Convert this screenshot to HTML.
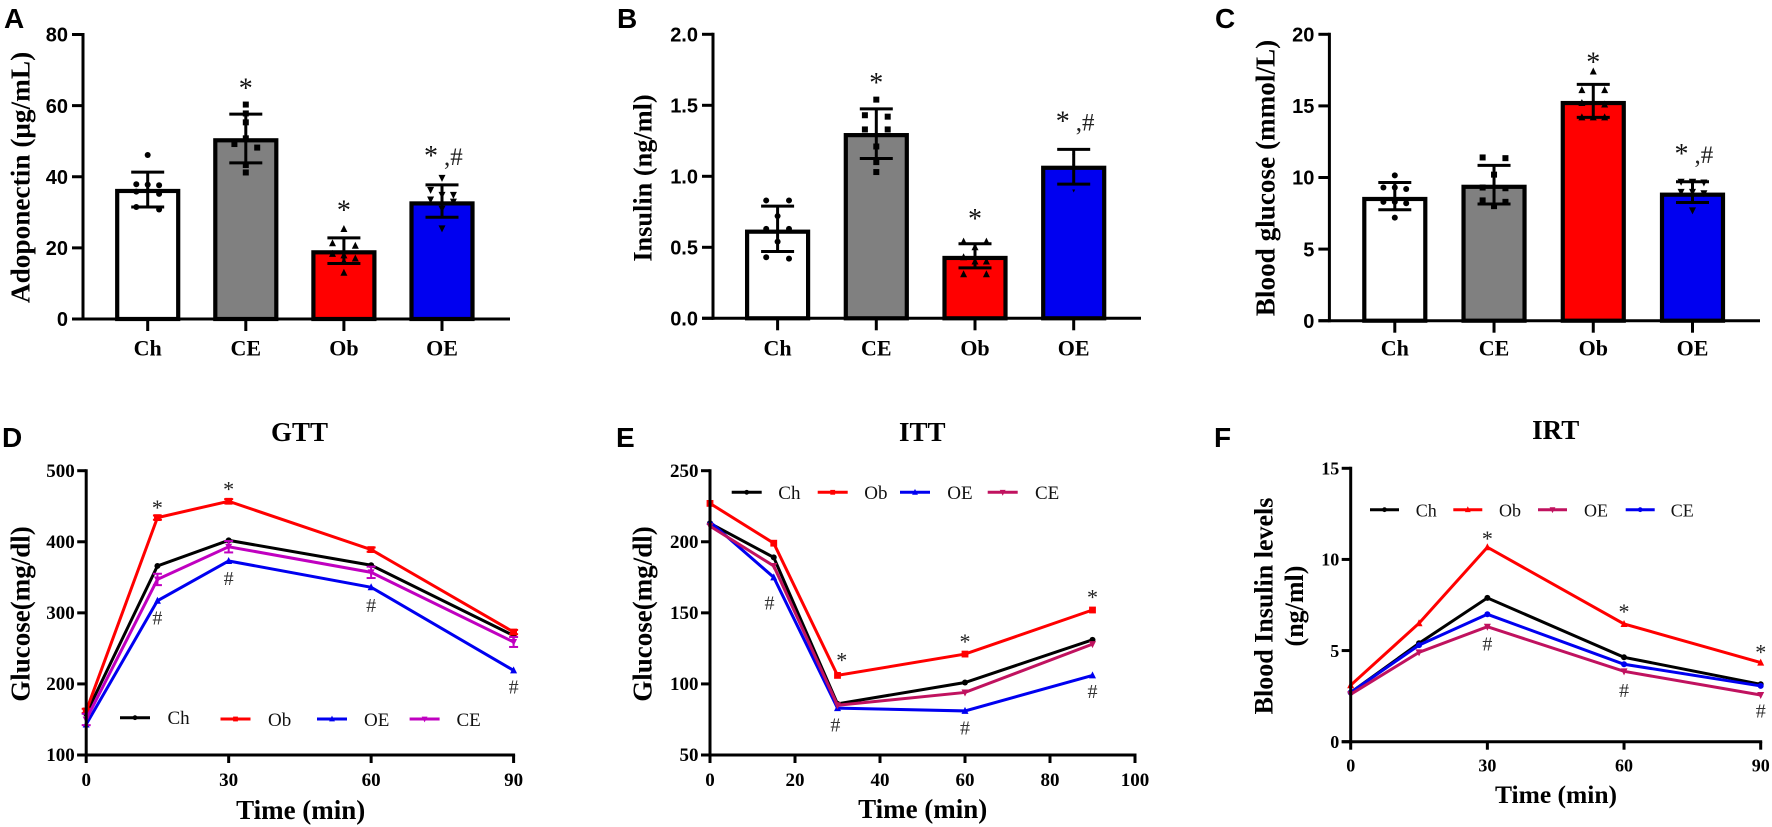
<!DOCTYPE html>
<html lang="en">
<head>
<meta charset="utf-8">
<title>Metabolic panels</title>
<style>
html,body{margin:0;padding:0;background:#fff;}
svg{display:block;}
.serif{font-family:"Liberation Serif",serif;}
.sans{font-family:"Liberation Sans",sans-serif;}
.letter{font-family:"Liberation Sans",sans-serif;font-weight:700;font-size:28px;fill:#000;}
.axt{font-family:"Liberation Serif",serif;font-weight:700;fill:#000;text-anchor:middle;}
</style>
</head>
<body>
<svg id="fig" xmlns="http://www.w3.org/2000/svg" width="1772" height="827" viewBox="0 0 1772 827">
<rect x="0" y="0" width="1772" height="827" fill="#fff"/>
<text class="letter" x="4" y="28">A</text>
<text class="letter" x="617" y="28">B</text>
<text class="letter" x="1215" y="28">C</text>
<text class="letter" x="2" y="447">D</text>
<text class="letter" x="616" y="447">E</text>
<text class="letter" x="1214" y="447">F</text>
<text class="axt" font-size="27.3" transform="translate(29.5 177.5) rotate(-90)">Adoponectin (μg/mL)</text>
<text class="axt" font-size="26.3" transform="translate(651.6 178) rotate(-90)">Insulin (ng/ml)</text>
<text class="axt" font-size="27.2" transform="translate(1274.6 178) rotate(-90)">Blood glucose (mmol/L)</text>
<text class="axt" font-size="27" transform="translate(29.5 614) rotate(-90)">Glucose(mg/dl)</text>
<text class="axt" font-size="27" transform="translate(651.7 614) rotate(-90)">Glucose(mg/dl)</text>
<text class="axt" font-size="26" transform="translate(1272.7 606) rotate(-90)">Blood Insulin levels</text>
<text class="axt" font-size="26" transform="translate(1303 606) rotate(-90)">(ng/ml)</text>
<text class="axt" font-size="27" x="299.5" y="441">GTT</text>
<text class="axt" font-size="27" x="922.3" y="441">ITT</text>
<text class="axt" font-size="27" x="1555.7" y="439">IRT</text>
<text class="axt" font-size="27" x="300.7" y="819">Time (min)</text>
<text class="axt" font-size="27" x="922.7" y="818">Time (min)</text>
<text class="axt" font-size="25.5" x="1556" y="803">Time (min)</text>
</svg>
<script>
// ---------- Bar chart data ----------
const barCategories = ["Ch", "CE", "Ob", "OE"];
const barColors = ["#ffffff", "#808080", "#ff0000", "#0000f0"];
const barShapes = ["circle", "square", "up", "down"];

const aTicks = [0, 20, 40, 60, 80];
const aTickLabels = ["0", "20", "40", "60", "80"];
const aMeans = [36, 50.25, 18.75, 32.5];
const aUpper = [41.3, 57.6, 22.8, 37.7];
const aLower = [31.5, 43.9, 15.6, 28.6];
const aPointsCh = [46.1, 37.8, 37.6, 37.9, 35.8, 35.2, 31.5, 30.8];
const aPointsCE = [60.3, 57.8, 55.3, 50.8, 49.2, 48.2, 43.3, 41.2];
const aPointsOb = [25.3, 21.3, 20.6, 18.3, 17.9, 17, 16.2, 13];
const aPointsOE = [39.7, 36.3, 34.9, 34.9, 33.6, 33, 31, 25.5];

const bTicks = [0, 0.5, 1, 1.5, 2];
const bTickLabels = ["0.0", "0.5", "1.0", "1.5", "2.0"];
const bMeans = [0.61, 1.29, 0.425, 1.06];
const bUpper = [0.79, 1.475, 0.525, 1.19];
const bLower = [0.47, 1.125, 0.355, 0.945];
const bPointsCh = [0.83, 0.83, 0.72, 0.63, 0.63, 0.54, 0.43, 0.42];
const bPointsCE = [1.54, 1.43, 1.42, 1.33, 1.33, 1.21, 1.1, 1.03];
const bPointsOb = [0.54, 0.54, 0.5, 0.43, 0.4, 0.4, 0.31, 0.31];
const bPointsOE = [1.15, 1.08, 0.9];

const cTicks = [0, 5, 10, 15, 20];
const cTickLabels = ["0", "5", "10", "15", "20"];
const cMeans = [8.5, 9.35, 15.2, 8.8];
const cUpper = [9.65, 10.85, 16.5, 9.7];
const cLower = [7.75, 8.15, 14.2, 8.25];
const cPointsCh = [10.15, 9.3, 9.2, 9.3, 8.3, 8.3, 8.2, 7.2];
const cPointsCE = [11.4, 11.35, 10.2, 9.3, 9.25, 8.4, 8.3, 8.0];
const cPointsOb = [17.4, 16.1, 16.1, 15.2, 15.1, 14.2, 14.2, 14.2];
const cPointsOE = [9.7, 9.7, 9.65, 9.65, 9, 9, 8.9, 7.7];

// significance text per bar, with the data value it sits at
const aSigLabels = ["", "*", "*", "*"];
const aSigValues = [0, 66, 31.6, 47];
const bSigLabels = ["", "*", "*", "*"];
const bSigValues = [0, 1.685, 0.727, 1.415];
const cSigLabels = ["", "", "*", "*"];
const cSigValues = [0, 0, 18.32, 11.92];

// ---------- Line chart data ----------
const timePoints = [0, 15, 30, 60, 90];

const dXTicks = [0, 30, 60, 90];
const dYTicks = [100, 200, 300, 400, 500];
const dCh = [158, 366, 402, 367, 268];
const dOb = [162, 434, 457, 389, 273];
const dOE = [143, 317, 373, 336, 219];
const dCE = [150, 347, 393, 357, 259];
const dObErr = [3, 3, 3, 3, 3];
const dCEErr = [8, 8, 8, 8, 7];
const dStarX = [15, 30];
const dStarY = [452, 478];
const dHashX = [15, 30, 60, 90];
const dHashY = [293, 348, 310, 196];

const eXTicks = [0, 20, 40, 60, 80, 100];
const eYTicks = [50, 100, 150, 200, 250];
const eCh = [213, 189, 86, 101, 131];
const eOb = [227, 199, 106, 121, 152];
const eOE = [214, 175, 83, 81, 106];
const eCE = [211, 183, 85, 94, 128];
const eStarX = [31, 60, 90];
const eStarY = [118.5, 131.5, 163];
const eHashX = [14, 29.5, 60, 90];
const eHashY = [157, 71, 69, 94.6];

const fXTicks = [0, 30, 60, 90];
const fYTicks = [0, 5, 10, 15];
const fCh = [2.7, 5.4, 7.89, 4.63, 3.15];
const fOb = [3.1, 6.5, 10.67, 6.46, 4.34];
const fOE = [2.6, 4.9, 6.31, 3.86, 2.56];
const fCE = [2.7, 5.3, 6.99, 4.25, 3.06];
const fStarX = [30, 60, 90];
const fStarY = [11.29, 7.28, 5.07];
const fHashX = [30, 60, 90];
const fHashY = [5.36, 2.8, 1.68];

// ---------- Helpers ----------
const SVGNS = "http://www.w3.org/2000/svg";
const fig = document.getElementById("fig");
function el(tag, attrs, parent) {
  const n = document.createElementNS(SVGNS, tag);
  for (const k in attrs) n.setAttribute(k, attrs[k]);
  (parent || fig).appendChild(n);
  return n;
}
function linear(d0, d1, r0, r1) {
  return function (v) { return r0 + (v - d0) * (r1 - r0) / (d1 - d0); };
}
function marker(shape, x, y, s, color, parent) {
  let m;
  if (shape === "circle") {
    m = el("circle", { cx: x, cy: y, r: s, fill: color }, parent);
  } else if (shape === "square") {
    m = el("rect", { x: x - s, y: y - s, width: 2 * s, height: 2 * s, fill: color }, parent);
  } else if (shape === "up") {
    m = el("polygon", { points: (x) + "," + (y - s - 1) + " " + (x - s - 0.5) + "," + (y + s) + " " + (x + s + 0.5) + "," + (y + s), fill: color }, parent);
  } else {
    m = el("polygon", { points: (x) + "," + (y + s + 1) + " " + (x - s - 0.5) + "," + (y - s) + " " + (x + s + 0.5) + "," + (y - s), fill: color }, parent);
  }
  return m;
}
function seg(x1, y1, x2, y2, w, color, parent) {
  return el("line", { x1: x1, y1: y1, x2: x2, y2: y2, stroke: color, "stroke-width": w, "stroke-linecap": "butt" }, parent);
}
function txt(str, x, y, size, family, weight, anchor, color, parent) {
  const t = el("text", { x: x, y: y, "font-size": size, "font-family": family, "font-weight": weight, "text-anchor": anchor, fill: color }, parent);
  t.textContent = str;
  return t;
}
const SERIF = '"Liberation Serif", serif';
const SANS = '"Liberation Sans", sans-serif';

// Rows of close values are laid out symmetrically around the bar centre
function swarm(values, y, slot) {
  const sorted = values.slice().sort(function (a, b) { return b - a; });
  const out = [];
  let row = [];
  function flush() {
    row.forEach(function (v, i) {
      const off = row.length === 2 ? (i === 0 ? -1 : 1) : (i - (row.length - 1) / 2);
      out.push({ v: v, dx: off * slot });
    });
    row = [];
  }
  sorted.forEach(function (v) {
    if (row.length && (Math.abs(y(row[0]) - y(v)) > 5 || row.length >= 3)) flush();
    row.push(v);
  });
  flush();
  return out;
}

// ---------- Bar panel ----------
function drawBars(p) {
  const g = el("g", {});
  
  
  const y = linear(p.ticks[0], p.ticks[p.ticks.length - 1], p.y0, p.yTop);
  const x = linear(0, 3, p.c0, p.c3);
  barCategories.forEach(function (cat, i) {
    const cx = x(i);
    const bar = el("rect", { x: cx - 30.5, y: y(p.means[i]), width: 61, height: p.y0 - y(p.means[i]), fill: barColors[i], stroke: "#000", "stroke-width": 4.2 }, g);
    
    
    const small = p.smallPoints === i;
    swarm(p.points[i], y, 11.4).forEach(function (pt) {
      const m = marker(barShapes[i], cx + pt.dx, y(pt.v), small ? 1 : 3, "#000", g);
      
      
    });
    const stem = seg(cx, y(p.upper[i]), cx, y(p.lower[i]), 3, "#000", g);
    
    
    const capU = seg(cx - 16.5, y(p.upper[i]), cx + 16.5, y(p.upper[i]), 3, "#000", g);
    
    
    const capL = seg(cx - 16.5, y(p.lower[i]), cx + 16.5, y(p.lower[i]), 3, "#000", g);
    
    
    const tick = seg(cx, p.y0, cx, p.y0 + 12, 3, "#000", g);
    
    
    const lab = txt(cat, cx, 355.7, 22, SERIF, 700, "middle", "#000", g);
    
    
    if (p.sigLabels[i]) {
      const s = txt(p.sigLabels[i], cx + (i === 3 ? -11 : 0), y(p.sigValues[i]) + 13, 28, SERIF, 400, "middle", "#111", g);
      
      
      if (i === 3) {
        const h = txt(",#", cx + 2, y(p.sigValues[i]) + 13, 25, SERIF, 400, "start", "#222", g);
        
        
      }
    }
  });
  const ya = seg(p.axisX, p.yTop - 1.5, p.axisX, p.y0 + 1.5, 3, "#000", g);
  
  
  const xa = seg(p.axisX - 11, p.y0, p.axisEnd, p.y0, 3, "#000", g);
  
  
  p.ticks.forEach(function (t, i) {
    const tk = seg(p.axisX - 11, y(t), p.axisX, y(t), 3, "#000", g);
    
    
    const lb = txt(p.tickLabels[i], p.axisX - 15, y(t) + 7.2, 20, SANS, 700, "end", "#000", g);
    
    
  });
}

drawBars({ id: "a", ticks: aTicks, tickLabels: aTickLabels, means: aMeans, upper: aUpper, lower: aLower,
  points: [aPointsCh, aPointsCE, aPointsOb, aPointsOE], sigLabels: aSigLabels, sigValues: aSigValues,
  y0: 319, yTop: 34.5, c0: 147.7, c3: 442, axisX: 83, axisEnd: 510 });
drawBars({ id: "b", ticks: bTicks, tickLabels: bTickLabels, means: bMeans, upper: bUpper, lower: bLower,
  points: [bPointsCh, bPointsCE, bPointsOb, bPointsOE], sigLabels: bSigLabels, sigValues: bSigValues, smallPoints: 3,
  y0: 318.3, yTop: 34.3, c0: 777.6, c3: 1073.7, axisX: 713, axisEnd: 1141 });
drawBars({ id: "c", ticks: cTicks, tickLabels: cTickLabels, means: cMeans, upper: cUpper, lower: cLower,
  points: [cPointsCh, cPointsCE, cPointsOb, cPointsOE], sigLabels: cSigLabels, sigValues: cSigValues,
  y0: 320.7, yTop: 34.3, c0: 1394.8, c3: 1692.5, axisX: 1329.4, axisEnd: 1760 });

// ---------- Line panel ----------
function drawLines(p) {
  const g = el("g", {});
  
  
  const x = linear(p.xTicks[0], p.xTicks[p.xTicks.length - 1], p.x0, p.x1);
  const y = linear(p.yTicks[0], p.yTicks[p.yTicks.length - 1], p.y0, p.yTop);
  p.series.forEach(function (s) {
    const pts = s.values.map(function (v, i) { return x(timePoints[i]) + "," + y(v); }).join(" ");
    const line = el("polyline", { points: pts, fill: "none", stroke: s.color, "stroke-width": 3, "stroke-linejoin": "miter" }, g);
    
    
    s.values.forEach(function (v, i) {
      const px = x(timePoints[i]);
      const py = y(v);
      if (s.err) {
        const e = s.err[i];
        const stem = seg(px, y(v + e), px, y(v - e), 2, s.color, g);
        
        
        const cu = seg(px - 4.5, y(v + e), px + 4.5, y(v + e), 2, s.color, g);
        
        
        const cl = seg(px - 4.5, y(v - e), px + 4.5, y(v - e), 2, s.color, g);
        
        
      }
      const m = marker(s.shape, px, py, s.shape === "square" ? 3.4 : 3, s.color, g);
      
      
    });
  });
  const ya = seg(p.x0, p.yTop - 1.5, p.x0, p.y0 + 1.5, 3, "#000", g);
  
  
  const xa = seg(p.x0 - 9, p.y0, p.x1 + 1.5, p.y0, 3, "#000", g);
  
  
  p.yTicks.forEach(function (t) {
    const tk = seg(p.x0 - 9, y(t), p.x0, y(t), 3, "#000", g);
    
    
    const lb = txt(String(t), p.x0 - 11.5, y(t) + 6.2, p.fs, SERIF, 700, "end", "#000", g);
    
    
  });
  p.xTicks.forEach(function (t) {
    const tk = seg(x(t), p.y0, x(t), p.y0 + 8, 3, "#000", g);
    
    
    const lb = txt(String(t), x(t), p.xLabelY, p.fs, SERIF, 700, "middle", "#000", g);
    
    
  });
  p.starX.forEach(function (t, i) {
    const st = txt("*", x(t), y(p.starY[i]) + 10, 22, SERIF, 400, "middle", "#222", g);
    
    
  });
  p.hashX.forEach(function (t, i) {
    const hs = txt("#", x(t), y(p.hashY[i]) + 6.5, 20, SERIF, 400, "middle", "#333", g);
    
    
  });
  p.legend.forEach(function (l) {
    const s = p.series[l.i];
    const e = el("g", {}, g);
    
    
    const ln = seg(l.x, l.y, l.x + p.legendLen, l.y, 3, s.color, e);
    
    
    const mk = marker(s.shape, l.x + p.legendLen / 2, l.y, 2.4, s.color, e);
    
    
    const tx = txt(s.name, l.tx, l.ty, p.legendFs, SERIF, 400, "start", "#111", e);
    
    
  });
}

drawLines({ id: "d", x0: 86.2, x1: 513.6, y0: 755, yTop: 470.7, xTicks: dXTicks, yTicks: dYTicks, fs: 19, xLabelY: 786,
  series: [
    { name: "Ch", values: dCh, color: "#000", shape: "circle" },
    { name: "Ob", values: dOb, color: "#ff0000", shape: "square", err: dObErr },
    { name: "OE", values: dOE, color: "#0000f0", shape: "up" },
    { name: "CE", values: dCE, color: "#c000c0", shape: "down", err: dCEErr }
  ],
  starX: dStarX, starY: dStarY, hashX: dHashX, hashY: dHashY, legendLen: 30, legendFs: 19,
  legend: [
    { i: 0, x: 120, y: 717.7, tx: 167.5, ty: 724 },
    { i: 1, x: 220.5, y: 719, tx: 268, ty: 726 },
    { i: 2, x: 317, y: 719, tx: 364, ty: 726 },
    { i: 3, x: 409.6, y: 719, tx: 456.5, ty: 726 }
  ] });

drawLines({ id: "e", x0: 710, x1: 1135, y0: 755, yTop: 470.7, xTicks: eXTicks, yTicks: eYTicks, fs: 19, xLabelY: 786,
  series: [
    { name: "Ch", values: eCh, color: "#000", shape: "circle" },
    { name: "Ob", values: eOb, color: "#ff0000", shape: "square" },
    { name: "OE", values: eOE, color: "#0000f0", shape: "up" },
    { name: "CE", values: eCE, color: "#c0125f", shape: "down" }
  ],
  starX: eStarX, starY: eStarY, hashX: eHashX, hashY: eHashY, legendLen: 30, legendFs: 19,
  legend: [
    { i: 0, x: 731.7, y: 492.3, tx: 778.3, ty: 499 },
    { i: 1, x: 817.7, y: 492.3, tx: 864.3, ty: 499 },
    { i: 2, x: 900, y: 492.3, tx: 947.3, ty: 499 },
    { i: 3, x: 987.7, y: 492.3, tx: 1035, ty: 499 }
  ] });

drawLines({ id: "f", x0: 1350.7, x1: 1760.7, y0: 741.7, yTop: 468.3, xTicks: fXTicks, yTicks: fYTicks, fs: 18, xLabelY: 771.7,
  series: [
    { name: "Ch", values: fCh, color: "#000", shape: "circle" },
    { name: "Ob", values: fOb, color: "#ff0000", shape: "up" },
    { name: "CE", values: fCE, color: "#0000f0", shape: "circle" },
    { name: "OE", values: fOE, color: "#c0125f", shape: "down" }
  ],
  starX: fStarX, starY: fStarY, hashX: fHashX, hashY: fHashY, legendLen: 29, legendFs: 18,
  legend: [
    { i: 0, x: 1370, y: 509.7, tx: 1415.7, ty: 516.7 },
    { i: 1, x: 1453.3, y: 509.7, tx: 1499, ty: 516.7 },
    { i: 3, x: 1538, y: 509.7, tx: 1584, ty: 516.7 },
    { i: 2, x: 1625.7, y: 509.7, tx: 1670.7, ty: 516.7 }
  ] });
</script>
</body>
</html>
